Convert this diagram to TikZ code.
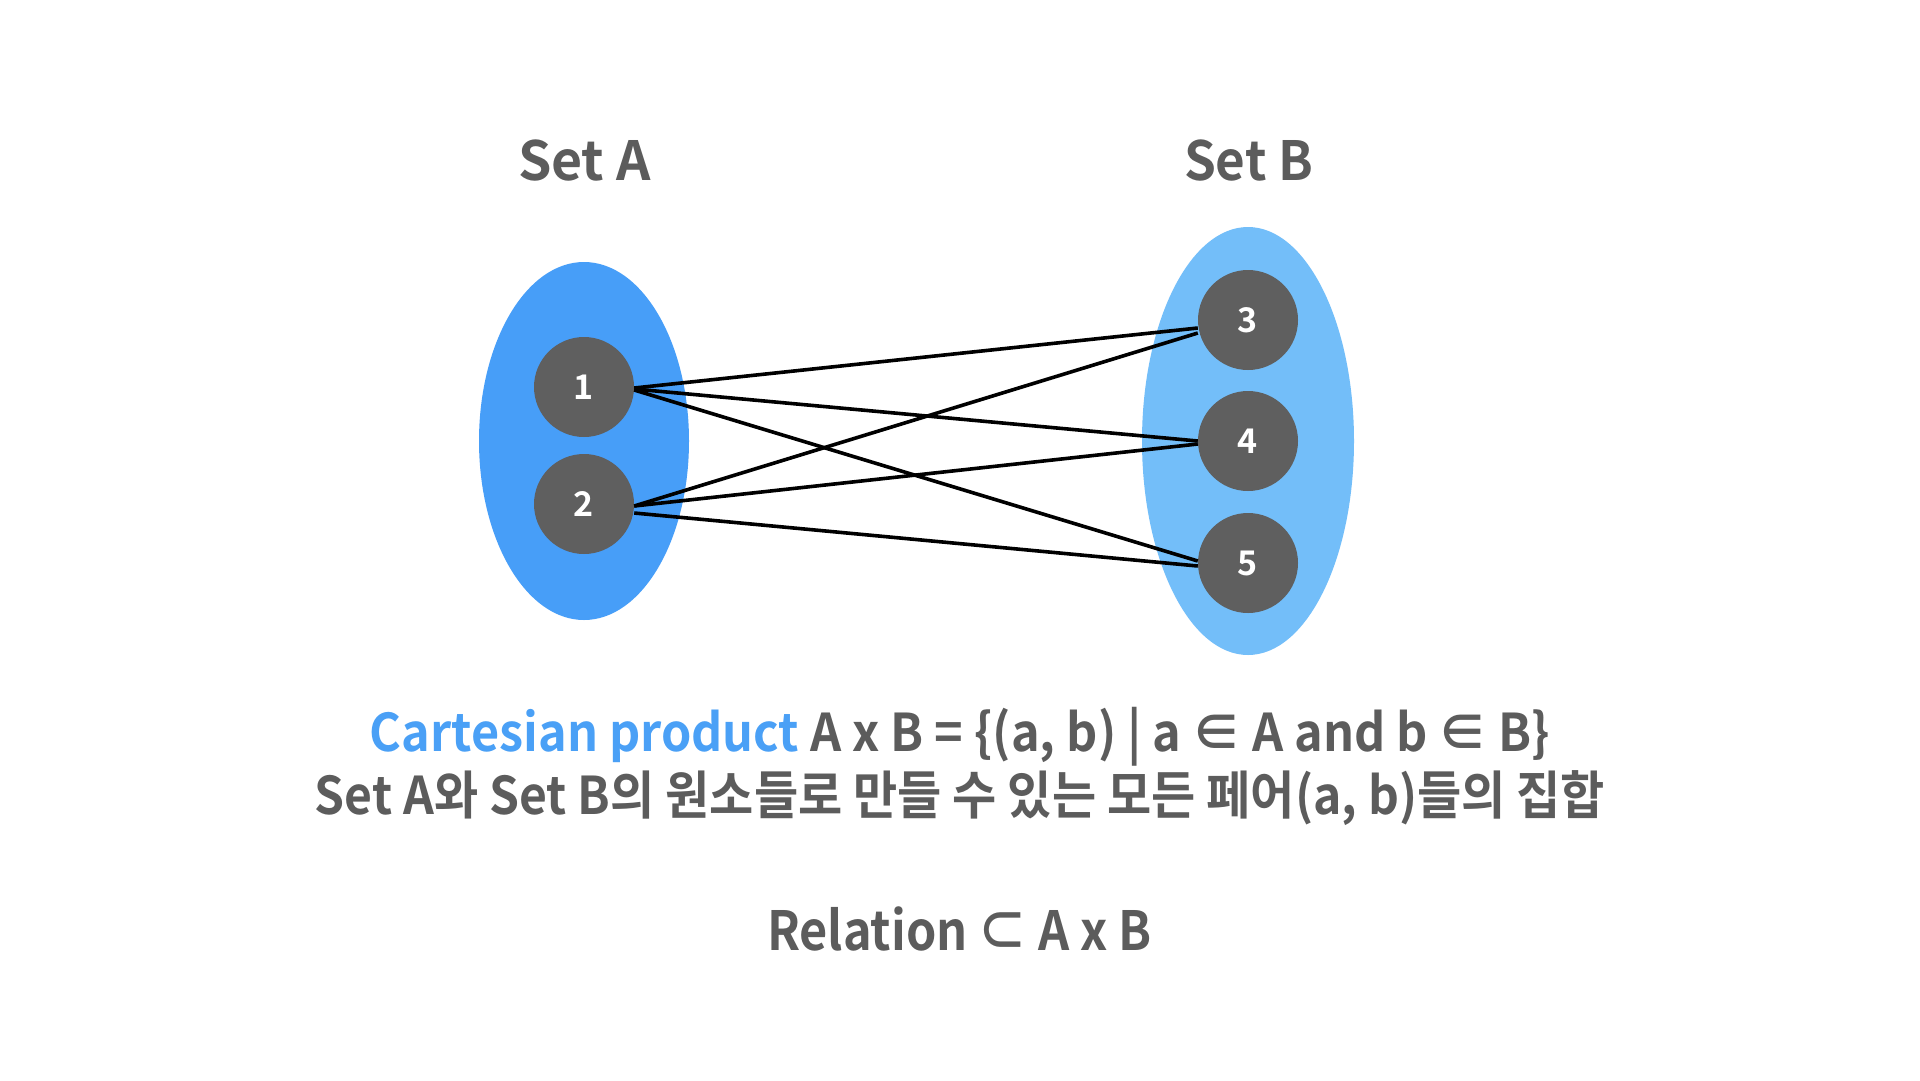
\documentclass[tikz,border=0pt]{standalone}
\usepackage{fontspec}
\usepackage{graphicx}
\setmainfont{Noto Sans CJK KR}[BoldFont={Noto Sans CJK KR Bold}]
\usetikzlibrary{shapes.geometric}
\definecolor{setA}{RGB}{71,158,248}
\definecolor{setB}{RGB}{115,190,249}
\definecolor{elem}{RGB}{95,95,95}
\definecolor{txt}{RGB}{92,92,92}
\definecolor{hl}{RGB}{74,160,246}
\newcommand{\fitw}[3]{\resizebox{#1}{\height}{\fontsize{#2}{#2}\selectfont\bfseries #3}}
\tikzset{
  setshape/.style={ellipse, draw=none, inner sep=0pt},
  elemnode/.style={circle, fill=elem, text=white, minimum size=100pt, inner sep=0pt, font=\fontsize{34}{34}\selectfont\bfseries},
  label text/.style={text=txt, anchor=base, inner sep=0pt},
  link/.style={line width=3.6pt, black}
}
\begin{document}
\begin{tikzpicture}[x=1pt,y=-1pt]
\useasboundingbox (0,0) rectangle (1920,1080);
\fill[white] (0,0) rectangle (1920,1080);
% sets
\node[setshape, fill=setA, minimum width=210pt, minimum height=358pt] (A) at (584,441) {};
\node[setshape, fill=setB, minimum width=212pt, minimum height=428pt] (B) at (1248,441) {};
% titles
\node[label text] (tA) at (584.5,180) {\fitw{133pt}{54}{Set A}};
\node[label text] (tB) at (1248.5,180) {\fitw{129pt}{54}{Set B}};
% elements
\node[elemnode] (n1) at (584,387) {1};
\node[elemnode] (n2) at (584,504) {2};
\node[elemnode] (n3) at (1248,320) {3};
\node[elemnode] (n4) at (1248,441) {4};
\node[elemnode] (n5) at (1248,563) {5};
% relations
\draw[link] ([yshift=-1pt]n1.east) -- ([yshift=-8pt]n3.west);
\draw[link] ([yshift=-2pt]n1.east) -- ([yshift=0pt]n4.west);
\draw[link] ([yshift=-3pt]n1.east) -- ([yshift=2pt]n5.west);
\draw[link] ([yshift=-2pt]n2.east) -- ([yshift=-13pt]n3.west);
\draw[link] ([yshift=-2pt]n2.east) -- ([yshift=-3pt]n4.west);
\draw[link] ([yshift=-9pt]n2.east) -- ([yshift=-3pt]n5.west);
% texts
\node[label text] (l1) at (960,751) {\fitw{1180pt}{52}{\textcolor{hl}{Cartesian product} A x B = \{(a, b) | a ∈ A and b ∈ B\}}};
\node[label text] (l2) at (960,814) {\fitw{1290pt}{52}{Set A와 Set B의 원소들로 만들 수 있는 모든 페어(a, b)들의 집합}};
\node[label text] (l3) at (959.5,950) {\fitw{385pt}{54}{Relation ⊂ A x B}};
\end{tikzpicture}
\end{document}
